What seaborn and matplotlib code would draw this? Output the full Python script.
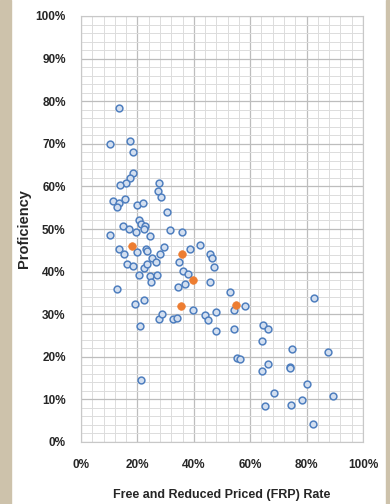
import pandas as pd
import matplotlib.pyplot as plt
import matplotlib.patches as mpatches
from matplotlib.ticker import MultipleLocator, PercentFormatter
import seaborn as sns

# Data (percent)
frp_blue = [13.3, 10.4, 17.5, 18.6, 18.6, 17.2, 15.9, 13.7, 27.6, 27.2, 28.2, 11.4, 13.3, 12.8,
            15.6, 19.9, 22.0, 30.4, 10.3, 15.0, 16.9, 20.5, 19.5, 21.4, 22.7, 22.4, 24.4, 31.6,
            35.9, 13.3, 15.1, 19.9, 23.0, 23.3, 16.4, 18.6, 20.5, 22.2, 23.4, 25.3, 26.6, 28.0,
            29.6, 24.6, 24.9, 26.9, 12.8, 19.1, 22.4, 20.9, 27.6, 28.8, 32.5, 34.2, 21.4, 42.1,
            38.7, 34.9, 36.3, 37.8, 37.0, 34.3, 39.8, 44.1, 45.0, 45.9, 46.4, 47.3, 45.9, 47.9,
            47.9, 52.7, 54.1, 54.1, 58.1, 55.3, 56.4, 64.3, 64.7, 66.3, 64.3, 66.3, 65.3, 68.6,
            74.9, 74.1, 74.1, 74.4, 78.2, 80.1, 82.1, 82.5, 87.5, 89.3]
prof_blue = [78.5, 69.9, 70.6, 68.1, 63.2, 62.0, 60.9, 60.3, 60.8, 59.0, 57.4, 56.6, 56.2, 55.2,
             57.0, 55.7, 56.2, 54.1, 48.7, 50.8, 50.0, 52.0, 49.2, 51.1, 50.8, 49.9, 48.4, 49.7,
             49.2, 45.4, 44.2, 44.7, 45.2, 44.9, 41.7, 41.3, 39.2, 40.9, 41.7, 43.1, 42.3, 44.2,
             45.8, 39.0, 37.6, 39.2, 35.9, 32.3, 33.4, 27.3, 28.9, 30.1, 28.9, 29.2, 14.5, 46.2,
             45.4, 42.2, 40.2, 39.4, 37.1, 36.3, 31.0, 29.9, 28.6, 44.2, 43.3, 41.0, 37.6, 30.5,
             26.1, 35.2, 30.9, 26.5, 31.9, 19.8, 19.5, 23.6, 27.5, 26.5, 16.7, 18.3, 8.4, 11.6,
             21.9, 17.6, 17.3, 8.8, 9.9, 13.7, 4.2, 33.8, 21.1, 10.8]
frp_orange = [18.0, 35.9, 39.6, 35.4, 54.8]
prof_orange = [46.0, 44.2, 38.0, 31.9, 32.2]

df = pd.DataFrame({
    'FRP': frp_blue + frp_orange,
    'Proficiency': prof_blue + prof_orange,
    'Group': ['all'] * len(frp_blue) + ['highlight'] * len(frp_orange),
})

sns.set_style('white')
plt.rcParams['font.family'] = ['Liberation Sans', 'DejaVu Sans']

fig = plt.figure(figsize=(3.9, 5.04), dpi=100)
# tan side borders
fig.patches.append(mpatches.Rectangle((0, 0), 11 / 390, 1, transform=fig.transFigure,
                                      color='#cdc2ab', zorder=-1))
fig.patches.append(mpatches.Rectangle((386 / 390, 0), 4 / 390, 1, transform=fig.transFigure,
                                      color='#cdc2ab', zorder=-1))
ax = fig.add_axes([81 / 390, 1 - 442 / 504, 282 / 390, 426 / 504])

blue = df[df['Group'] == 'all']
orange = df[df['Group'] == 'highlight']
sns.scatterplot(data=blue, x='FRP', y='Proficiency', ax=ax, s=24, marker='o',
                facecolor='#d3dff0', edgecolor='#4f7fbf', linewidth=1.1, zorder=3)
sns.scatterplot(data=orange, x='FRP', y='Proficiency', ax=ax, s=30, marker='o',
                color='#ed7d31', edgecolor='#ed7d31', linewidth=0.5, zorder=4)

ax.set_xlim(0, 100)
ax.set_ylim(0, 100)
ax.xaxis.set_major_locator(MultipleLocator(20))
ax.xaxis.set_minor_locator(MultipleLocator(4))
ax.yaxis.set_major_locator(MultipleLocator(10))
ax.yaxis.set_minor_locator(MultipleLocator(2))
ax.xaxis.set_major_formatter(PercentFormatter(decimals=0))
ax.yaxis.set_major_formatter(PercentFormatter(decimals=0))
ax.grid(True, which='major', color='#bdbdbd', linewidth=0.9)
ax.grid(True, which='minor', color='#dcdcdc', linewidth=0.7)
ax.set_axisbelow(True)
for sp in ax.spines.values():
    sp.set_color('#c8c8c8')
    sp.set_linewidth(0.8)

ax.tick_params(axis='both', which='both', length=0, labelsize=8.5)
ax.tick_params(axis='x', pad=12)
ax.tick_params(axis='y', pad=11)
for lbl in ax.get_xticklabels() + ax.get_yticklabels():
    lbl.set_fontweight('bold')
    lbl.set_color('#262626')

ax.set_xlabel('Free and Reduced Priced (FRP) Rate', fontsize=9, fontweight='bold',
              color='#262626')
ax.set_ylabel('Proficiency', fontsize=10.5, fontweight='bold', color='#262626')
ax.xaxis.set_label_coords(0.5, -47 / 426, transform=ax.transAxes)
ax.yaxis.set_label_coords(-50 / 282, 0.5, transform=ax.transAxes)

plt.savefig('out.png', dpi=100)
